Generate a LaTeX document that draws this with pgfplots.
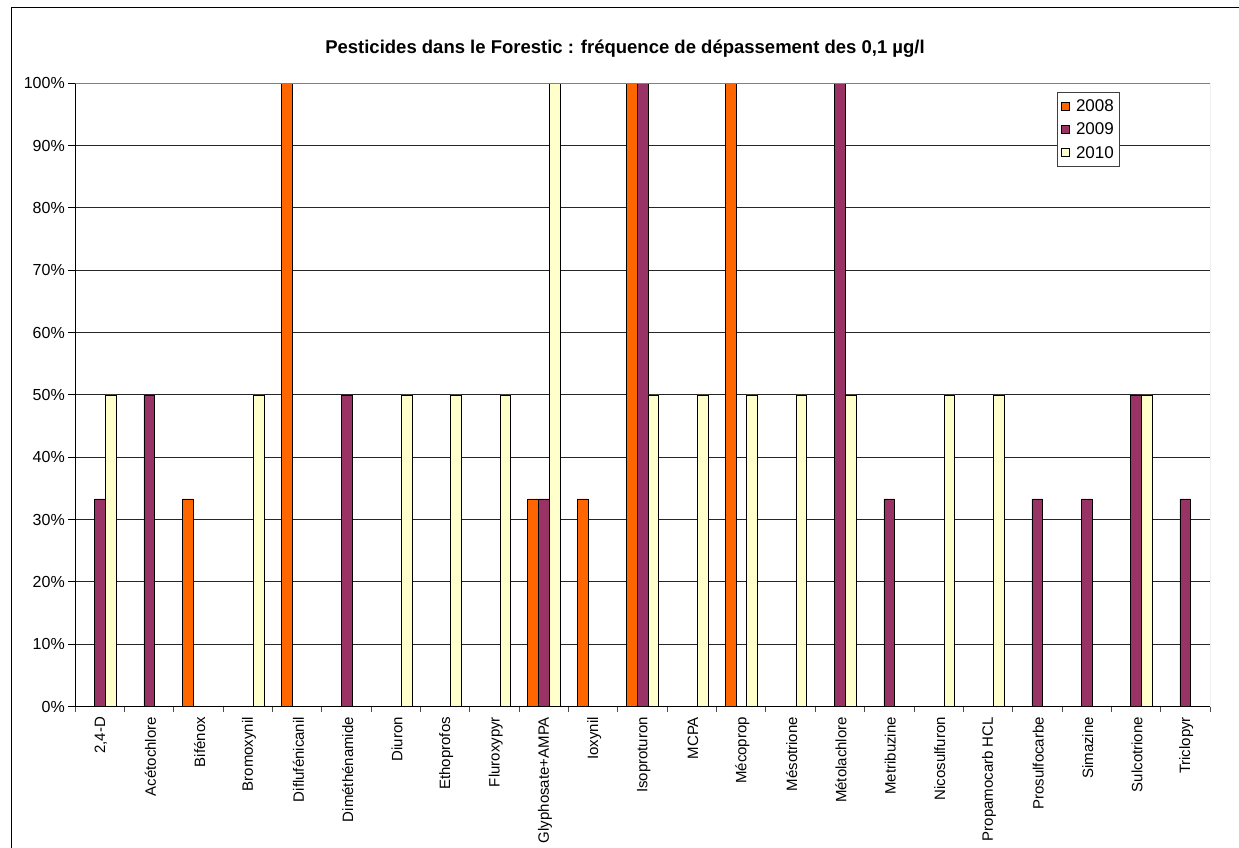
\documentclass[border=0pt]{standalone}
\usepackage{fontspec}
\setmainfont{Liberation Sans}
\usepackage{pgfplots}
\usepackage{pgfplotstable}
\pgfplotsset{compat=1.18}

\definecolor{c2008}{HTML}{FF6600}
\definecolor{c2009}{HTML}{993366}
\definecolor{c2010}{HTML}{FFFFCC}

% Frequency (%) of samples above 0.1 ug/l, by substance index
\pgfplotstableread{
x y
2 33.3
4 100
9 33.3
10 33.3
11 100
13 100
}\yearA
\pgfplotstableread{
x y
0 33.3
1 50
5 50
9 33.3
11 100
15 100
16 33.3
19 33.3
20 33.3
21 50
22 33.3
}\yearB
\pgfplotstableread{
x y
0 50
3 50
6 50
7 50
8 50
9 100
11 50
12 50
13 50
14 50
15 50
17 50
18 50
21 50
}\yearC

\begin{document}
\begin{tikzpicture}
\useasboundingbox (0pt,0pt) rectangle (1239pt,847pt);
\clip (0pt,0pt) rectangle (1239pt,847pt);
\draw[black, line width=1pt] (11pt,-20pt) -- (11pt,839.7pt) -- (1260pt,839.7pt);
\node[font=\bfseries\fontsize{18.5}{22}\selectfont, anchor=base] at (625pt,793.7pt) {Pesticides dans le Forestic : fréquence de dépassement des 0,1 µg/l};
\begin{axis}[
  at={(75.3pt,140.5pt)}, anchor=south west,
  scale only axis, width=1134.7pt, height=623.2pt,
  ybar=0pt, bar width=10.8pt,
  xmin=-0.5, xmax=22.5, ymin=0, ymax=100,
  axis x line*=bottom, axis y line*=left,
  axis line style={black, line width=1pt},
  xtick={0,...,22},
  xticklabels={{2,4-D},Acétochlore,Bifénox,Bromoxynil,Diflufénicanil,Diméthénamide,Diuron,Ethoprofos,Fluroxypyr,Glyphosate+AMPA,Ioxynil,Isoproturon,MCPA,Mécoprop,Mésotrione,Métolachlore,Metribuzine,Nicosulfuron,Propamocarb HCL,Prosulfocarbe,Simazine,Sulcotrione,Triclopyr},
  minor xtick={-0.5,0.5,...,22.5},
  major x tick style={draw=none},
  minor x tick style={black!70, line width=1pt},
  minor tick length=5pt,
  major tick length=7pt,
  tick align=outside,
  ytick={0,10,...,100},
  major y tick style={black, line width=1pt},
  yticklabel={\pgfmathprintnumber{\tick}\%},
  /pgf/number format/assume math mode=true,
  ymajorgrids,
  grid style={black!85, line width=0.9pt},
  xticklabel style={rotate=90, anchor=east, font=\fontsize{15}{18}\selectfont, yshift=-1pt},
  yticklabel style={font=\fontsize{16}{19}\selectfont},
  legend style={at={(0.865,0.986)}, anchor=north west, draw=black!75, line width=0.8pt,
    fill=white, font=\fontsize{17}{20}\selectfont, inner xsep=4pt, inner ysep=5pt,
    row sep=6pt, cells={anchor=west},
    /tikz/every odd column/.append style={column sep=4pt}},
  legend image code/.code={\draw[#1, line width=0.8pt] (0pt,-4pt) rectangle (8pt,4pt);},
  every axis plot/.append style={draw=black, line width=0.8pt},
]
\addplot[fill=c2008] table {\yearA};
\addplot[fill=c2009] table {\yearB};
\addplot[fill=c2010] table {\yearC};
\legend{2008,2009,2010}
\draw[gray, line width=1pt] (rel axis cs:0,1) -- (rel axis cs:1,1) -- (rel axis cs:1,0);
\end{axis}
\end{tikzpicture}
\end{document}
